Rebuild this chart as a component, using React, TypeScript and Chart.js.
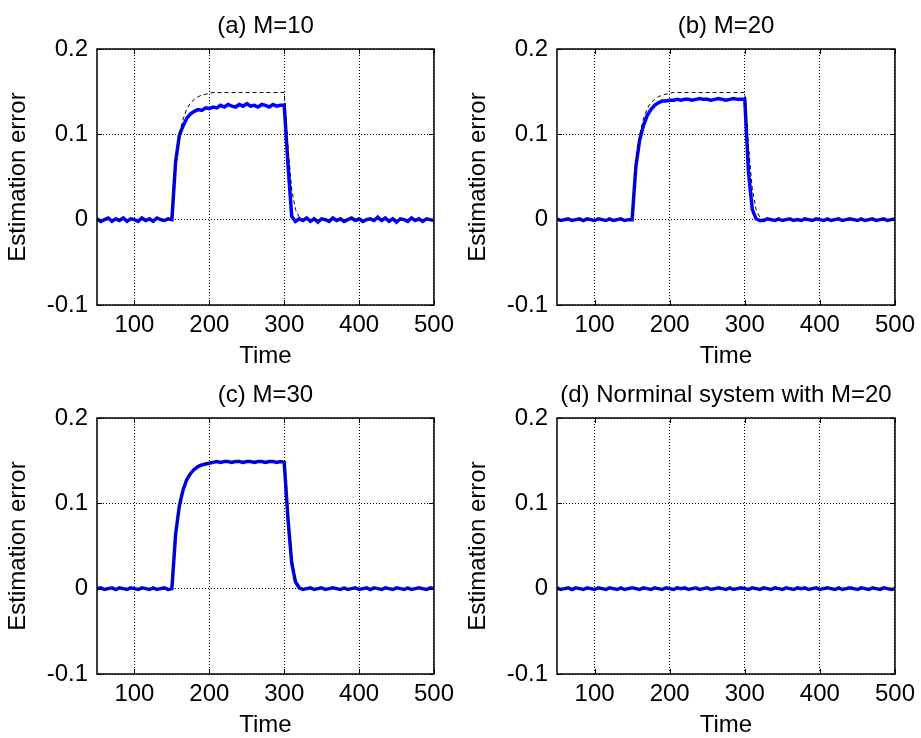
import React, { useEffect, useRef } from "react";
import { Chart, registerables } from "chart.js";

Chart.register(...registerables);

// ---------- data ----------
const TIME = [
  50, 55, 60, 65, 70, 75, 80, 85, 90, 95,
  100, 105, 110, 115, 120, 125, 130, 135, 140, 145,
  150, 155, 160, 165, 170, 175, 180, 185, 190, 195,
  200, 205, 210, 215, 220, 225, 230, 235, 240, 245,
  250, 255, 260, 265, 270, 275, 280, 285, 290, 295,
  300, 305, 310, 315, 320, 325, 330, 335, 340, 345,
  350, 355, 360, 365, 370, 375, 380, 385, 390, 395,
  400, 405, 410, 415, 420, 425, 430, 435, 440, 445,
  450, 455, 460, 465, 470, 475, 480, 485, 490, 495,
  500,
];

// true fault (black dashed) in panels a-c
const FAULT_REF = [
  0, 0, 0, 0, 0, 0, 0, 0, 0, 0,
  0, 0, 0, 0, 0, 0, 0, 0, 0, 0,
  0, 0.066, 0.099, 0.118, 0.13, 0.137, 0.141, 0.144, 0.146, 0.147,
  0.148, 0.149, 0.149, 0.149, 0.149, 0.149, 0.149, 0.149, 0.149, 0.149,
  0.149, 0.149, 0.149, 0.149, 0.149, 0.149, 0.149, 0.149, 0.149, 0.149,
  0.149, 0.085, 0.036, 0.012, 0.003, 0, 0, 0, 0, 0,
  0, 0, 0, 0, 0, 0, 0, 0, 0, 0,
  0, 0, 0, 0, 0, 0, 0, 0, 0, 0,
  0, 0, 0, 0, 0, 0, 0, 0, 0, 0,
  0,
];

// nominal system: no fault
const NOMINAL_REF = [
  0, 0, 0, 0, 0, 0, 0, 0, 0, 0,
  0, 0, 0, 0, 0, 0, 0, 0, 0, 0,
  0, 0, 0, 0, 0, 0, 0, 0, 0, 0,
  0, 0, 0, 0, 0, 0, 0, 0, 0, 0,
  0, 0, 0, 0, 0, 0, 0, 0, 0, 0,
  0, 0, 0, 0, 0, 0, 0, 0, 0, 0,
  0, 0, 0, 0, 0, 0, 0, 0, 0, 0,
  0, 0, 0, 0, 0, 0, 0, 0, 0, 0,
  0, 0, 0, 0, 0, 0, 0, 0, 0, 0,
  0,
];

const EST_M10 = [
  0.001, -0.002, 0.0, 0.002, -0.002, 0.001, -0.001, 0.002, -0.002, 0.001,
  0.0, -0.002, 0.002, -0.001, 0.001, -0.002, 0.002, 0.0, -0.001, 0.001,
  0.0, 0.068, 0.099, 0.11, 0.119, 0.124, 0.127, 0.129, 0.128, 0.131,
  0.13, 0.132, 0.131, 0.134, 0.132, 0.135, 0.133, 0.132, 0.135, 0.133,
  0.136, 0.133, 0.134, 0.132, 0.135, 0.134, 0.132, 0.135, 0.133, 0.134,
  0.134, 0.065, 0.004, -0.002, 0.001, -0.001, 0.002, -0.002, 0.001, -0.003,
  0.001, 0.0, -0.002, 0.002, -0.001, 0.001, -0.002, 0.0, 0.002, -0.001,
  0.001, -0.002, 0.0, 0.001, -0.001, 0.003, -0.001, 0.002, -0.002, 0.001,
  -0.003, 0.001, 0.0, -0.002, 0.002, -0.001, 0.001, -0.002, 0.001, 0.0,
  -0.001,
];

const EST_M20 = [
  0.001, -0.001, 0.0, 0.001, -0.001, 0.0, 0.001, -0.001, 0.001, 0.0,
  -0.001, 0.001, 0.0, -0.001, 0.001, -0.001, 0.0, 0.001, -0.001, 0.0,
  0.0, 0.062, 0.093, 0.11, 0.122, 0.129, 0.134, 0.137, 0.139, 0.139,
  0.14, 0.14, 0.141, 0.14, 0.141, 0.141, 0.14, 0.141, 0.142, 0.141,
  0.141, 0.14, 0.141, 0.142, 0.141, 0.14, 0.141, 0.142, 0.141, 0.141,
  0.141, 0.055, 0.012, 0.001, -0.001, -0.001, 0.001, 0.0, -0.001, 0.001,
  -0.001, 0.0, 0.001, -0.001, 0.0, -0.001, 0.001, 0.0, -0.001, 0.001,
  0.0, -0.001, 0.001, -0.001, 0.0, 0.001, -0.001, 0.0, 0.001, 0.0,
  -0.001, 0.001, -0.001, 0.0, 0.001, -0.001, 0.0, 0.001, -0.001, 0.0,
  0.001,
];

const EST_M30 = [
  0.0, 0.001, -0.001, 0.0, 0.001, -0.001, 0.001, 0.0, -0.001, 0.001,
  0.0, -0.001, 0.001, 0.0, -0.001, 0.001, -0.001, 0.0, 0.001, -0.001,
  0.0, 0.064, 0.097, 0.116, 0.128, 0.135, 0.14, 0.143, 0.145, 0.146,
  0.147, 0.148, 0.149, 0.148, 0.149, 0.149, 0.148, 0.149, 0.149, 0.148,
  0.149, 0.149, 0.148, 0.149, 0.149, 0.148, 0.149, 0.149, 0.148, 0.149,
  0.148, 0.082, 0.03, 0.008, 0.001, -0.001, 0.0, 0.001, -0.001, 0.0,
  0.001, -0.001, 0.0, 0.001, 0.0, -0.001, 0.001, -0.001, 0.0, 0.001,
  -0.001, 0.0, 0.001, -0.001, 0.001, 0.0, -0.001, 0.001, 0.0, -0.001,
  0.001, 0.0, -0.001, 0.001, -0.001, 0.0, 0.001, 0.0, -0.001, 0.001,
  0.0,
];

const EST_NOMINAL = [
  0.001, -0.001, 0.0, 0.001, -0.001, 0.001, 0.0, -0.001, 0.001, 0.0,
  -0.001, 0.001, 0.0, -0.001, 0.001, 0.0, -0.001, 0.001, -0.001, 0.0,
  0.001, 0.0, -0.001, 0.001, 0.0, -0.001, 0.001, 0.0, -0.001, 0.001,
  0.0, -0.001, 0.001, 0.0, 0.001, -0.001, 0.0, 0.001, -0.001, 0.0,
  0.001, -0.001, 0.0, 0.001, 0.0, -0.001, 0.001, -0.001, 0.0, 0.001,
  0.0, -0.001, 0.001, 0.0, -0.001, 0.001, 0.0, -0.001, 0.001, 0.0,
  -0.001, 0.001, 0.0, -0.001, 0.001, 0.0, 0.001, -0.001, 0.0, 0.001,
  -0.001, 0.0, 0.001, 0.0, -0.001, 0.001, -0.001, 0.0, 0.001, 0.0,
  -0.001, 0.001, 0.0, -0.001, 0.001, 0.0, -0.001, 0.001, 0.0, -0.001,
  0.0,
];

const X_TICKS = [100, 200, 300, 400, 500];
const Y_TICKS = [-0.1, 0, 0.1, 0.2];
const X_MIN = 50;
const X_MAX = 500;
const Y_MIN = -0.1;
const Y_MAX = 0.2;

const PANEL_TITLES = ["(a) M=10", "(b) M=20", "(c) M=30", "(d) Norminal system with M=20"];
const X_LABEL = "Time";
const Y_LABEL = "Estimation error";

// ---------- styling ----------
const FONT_FAMILY = "'Liberation Sans', Arial, Helvetica, sans-serif";
const TEXT_SIZE = 24;
const LABEL_SIZE = 24;

const framePlugin = {
  id: "matlabFrame",
  afterDatasetsDraw(chart: any) {
    const { ctx, chartArea: a, scales } = chart;
    ctx.save();
    ctx.setLineDash([]);
    ctx.strokeStyle = "#000";
    ctx.lineWidth = 1;
    const tl = 5;
    ctx.beginPath();
    X_TICKS.forEach((v) => {
      const px = Math.round(scales.x.getPixelForValue(v)) + 0.5;
      ctx.moveTo(px, a.bottom);
      ctx.lineTo(px, a.bottom - tl);
      ctx.moveTo(px, a.top);
      ctx.lineTo(px, a.top + tl);
    });
    Y_TICKS.forEach((v) => {
      const py = Math.round(scales.y.getPixelForValue(v)) + 0.5;
      ctx.moveTo(a.left, py);
      ctx.lineTo(a.left + tl, py);
      ctx.moveTo(a.right, py);
      ctx.lineTo(a.right - tl, py);
    });
    ctx.stroke();
    ctx.lineWidth = 1.5;
    ctx.strokeRect(a.left, a.top, a.right - a.left, a.bottom - a.top);
    ctx.restore();
  },
};

type PanelProps = {
  title: string;
  est: number[];
  ref0: number[];
  left: number;
  top: number;
  width: number;
  height: number;
};

function Panel({ title, est, ref0, left, top, width, height }: PanelProps) {
  const canvasRef = useRef<HTMLCanvasElement | null>(null);

  useEffect(() => {
    const canvas = canvasRef.current;
    if (!canvas) return;
    const estPts = TIME.map((t, i) => ({ x: t, y: est[i] }));
    const refPts = TIME.map((t, i) => ({ x: t, y: ref0[i] }));

    const chart = new Chart(canvas, {
      type: "line",
      data: {
        datasets: [
          {
            label: "actual",
            data: refPts,
            borderColor: "#000000",
            borderWidth: 1,
            borderDash: [4, 3],
            pointRadius: 0,
            tension: 0,
            fill: false,
          },
          {
            label: "estimate",
            data: estPts,
            borderColor: "#0000ff",
            borderWidth: 3.5,
            pointRadius: 0,
            tension: 0,
            fill: false,
          },
        ],
      },
      options: {
        animation: false,
        responsive: false,
        maintainAspectRatio: false,
        events: [],
        layout: { padding: { left: 0, right: 23, top: 0, bottom: 0 } },
        plugins: {
          legend: { display: false },
          tooltip: { enabled: false },
          title: {
            display: true,
            text: title,
            color: "#000",
            fullSize: false,
            font: { family: FONT_FAMILY, size: TEXT_SIZE, weight: "normal", lineHeight: 1.2 },
            padding: { top: 11.6, bottom: 8.6 },
          },
        },
        scales: {
          x: {
            type: "linear",
            min: X_MIN,
            max: X_MAX,
            afterBuildTicks: (s: any) => {
              s.ticks = X_TICKS.map((v) => ({ value: v }));
            },
            afterFit: (s: any) => {
              s.height = 64;
            },
            ticks: {
              autoSkip: false,
              maxRotation: 0,
              padding: 6,
              color: "#000",
              font: { family: FONT_FAMILY, size: TEXT_SIZE },
              callback: (v: any) => String(v),
            },
            grid: { display: true, drawTicks: false, color: "#000", lineWidth: 1 },
            border: { display: false, dash: [1, 2] },
            title: {
              display: true,
              text: X_LABEL,
              color: "#000",
              font: { family: FONT_FAMILY, size: LABEL_SIZE },
              padding: { top: 0, bottom: -2 },
            },
          },
          y: {
            type: "linear",
            min: Y_MIN,
            max: Y_MAX,
            afterBuildTicks: (s: any) => {
              s.ticks = Y_TICKS.map((v) => ({ value: v }));
            },
            afterFit: (s: any) => {
              s.width = 97;
            },
            ticks: {
              padding: 9,
              color: "#000",
              font: { family: FONT_FAMILY, size: TEXT_SIZE },
              callback: (v: any) => (Math.abs(v) < 1e-9 ? "0" : String(v)),
            },
            grid: { display: true, drawTicks: false, color: "#000", lineWidth: 1 },
            border: { display: false, dash: [1, 2] },
            title: {
              display: true,
              text: Y_LABEL,
              color: "#000",
              font: { family: FONT_FAMILY, size: LABEL_SIZE },
              padding: { top: 4, bottom: 0 },
            },
          },
        },
      } as any,
      plugins: [framePlugin],
    });
    return () => chart.destroy();
  }, [title, est, ref0]);

  return (
    <canvas
      ref={canvasRef}
      width={width}
      height={height}
      style={{ position: "absolute", left, top, display: "block" }}
    />
  );
}

export default function App() {
  return (
    <div
      style={{
        position: "absolute",
        left: 0,
        top: 0,
        width: 921,
        height: 738,
        background: "#ffffff",
        overflow: "hidden",
      }}
    >
      <Panel title={PANEL_TITLES[0]} est={EST_M10} ref0={FAULT_REF} left={0} top={0} width={460} height={369} />
      <Panel title={PANEL_TITLES[1]} est={EST_M20} ref0={FAULT_REF} left={460} top={0} width={461} height={369} />
      <Panel title={PANEL_TITLES[2]} est={EST_M30} ref0={FAULT_REF} left={0} top={369} width={460} height={369} />
      <Panel title={PANEL_TITLES[3]} est={EST_NOMINAL} ref0={NOMINAL_REF} left={460} top={369} width={461} height={369} />
    </div>
  );
}
